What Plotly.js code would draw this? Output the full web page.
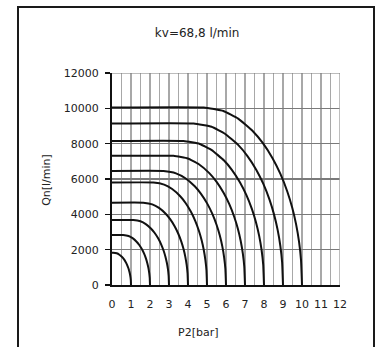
<!DOCTYPE html>
<html>
<head>
<meta charset="utf-8">
<script src="https://cdn.plot.ly/plotly-3.0.1.min.js"></script>
<style>
html,body{margin:0;padding:0;background:#fff;overflow:hidden;}
#chart{width:377px;height:347px;position:absolute;left:0;top:0;}
#frame{position:absolute;left:17px;top:6px;width:354px;height:360px;border:2px solid #1a1a1a;pointer-events:none;}
</style>
</head>
<body>
<div id="chart"></div>
<div id="frame"></div>
<script>
// P1 supply pressures (bar) for each curve
const supplyPressures = [1, 2, 3, 4, 5, 6, 7, 8, 9, 10];
// P2 [bar] / Qn [l/min] points
const p2_1  = [0, 0.06, 0.248, 0.389, 0.53, 0.624, 0.718, 0.793, 0.859, 0.906, 0.944, 0.972, 0.991, 1.0];
const qn_1  = [1830, 1830, 1793, 1714, 1585, 1464, 1307, 1145, 964, 798, 624, 445, 258, 0];
const p2_2  = [0, 0.59, 0.872, 1.084, 1.295, 1.436, 1.577, 1.690, 1.789, 1.859, 1.915, 1.958, 1.986, 2.0];
const qn_2  = [2830, 2830, 2773, 2651, 2451, 2264, 2021, 1771, 1491, 1234, 966, 688, 399, 0];
const p2_3  = [0, 1.12, 1.496, 1.778, 2.06, 2.248, 2.436, 2.586, 2.718, 2.812, 2.887, 2.944, 2.981, 3.0];
const qn_3  = [3680, 3680, 3606, 3447, 3187, 2944, 2628, 2303, 1939, 1604, 1256, 895, 519, 0];
const p2_4  = [0, 1.65, 2.12, 2.473, 2.825, 3.06, 3.295, 3.483, 3.648, 3.765, 3.859, 3.930, 3.977, 4.0];
const qn_4  = [4660, 4660, 4566, 4365, 4036, 3728, 3328, 2916, 2455, 2031, 1590, 1133, 658, 0];
const p2_5  = [0, 2.18, 2.744, 3.167, 3.59, 3.872, 4.154, 4.380, 4.577, 4.718, 4.831, 4.915, 4.972, 5.0];
const qn_5  = [5800, 5800, 5683, 5433, 5023, 4640, 4142, 3630, 3055, 2528, 1979, 1410, 818, 0];
const p2_6  = [0, 2.71, 3.368, 3.862, 4.355, 4.684, 5.013, 5.276, 5.507, 5.671, 5.803, 5.901, 5.967, 6.0];
const qn_6  = [6450, 6450, 6320, 6042, 5586, 5160, 4606, 4036, 3398, 2812, 2201, 1568, 910, 0];
const p2_7  = [0, 3.24, 3.992, 4.556, 5.12, 5.496, 5.872, 6.173, 6.436, 6.624, 6.774, 6.887, 6.962, 7.0];
const qn_7  = [7310, 7310, 7162, 6847, 6330, 5848, 5220, 4575, 3851, 3186, 2494, 1777, 1031, 0];
const p2_8  = [0, 3.77, 4.616, 5.251, 5.885, 6.308, 6.731, 7.069, 7.366, 7.577, 7.746, 7.873, 7.958, 8.0];
const qn_8  = [8150, 8150, 7985, 7634, 7058, 6520, 5820, 5100, 4293, 3553, 2781, 1981, 1150, 0];
const p2_9  = [0, 4.3, 5.24, 5.945, 6.65, 7.12, 7.59, 7.966, 8.295, 8.53, 8.718, 8.859, 8.953, 9.0];
const qn_9  = [9140, 9140, 8955, 8561, 7915, 7312, 6527, 5720, 4815, 3984, 3119, 2222, 1290, 0];
const p2_10 = [0, 4.83, 5.864, 6.640, 7.415, 7.932, 8.449, 8.863, 9.225, 9.483, 9.690, 9.845, 9.948, 10.0];
const qn_10 = [10050, 10050, 9847, 9414, 8703, 8040, 7177, 6289, 5294, 4381, 3429, 2443, 1418, 0];

const xTickVals = [0,1,2,3,4,5,6,7,8,9,10,11,12];
const xTickText = ['0','1','2','3','4','5','6','7','8','9','10','11','12'];
const yTickVals = [0,2000,4000,6000,8000,10000,12000];
const yTickText = ['0','2000','4000','6000','8000','10000','12000'];

const xs = [p2_1,p2_2,p2_3,p2_4,p2_5,p2_6,p2_7,p2_8,p2_9,p2_10];
const ys = [qn_1,qn_2,qn_3,qn_4,qn_5,qn_6,qn_7,qn_8,qn_9,qn_10];

const traces = supplyPressures.map((p, i) => ({
  x: xs[i], y: ys[i], type: 'scatter', mode: 'lines',
  name: 'P1=' + p + ' bar',
  line: {color: '#111111', width: 2, shape: 'spline', smoothing: 0.35},
  hoverinfo: 'skip'
}));

const F = 'DejaVu Sans, sans-serif';
const layout = {
  width: 377, height: 347,
  margin: {l: 112, r: 37, t: 73, b: 62, pad: 0},
  paper_bgcolor: '#ffffff', plot_bgcolor: '#ffffff',
  showlegend: false,
  font: {family: F, size: 11, color: '#222'},
  title: {text: 'kv=68,8 l/min', font: {family: F, size: 12, color: '#222'},
          x: 0.523, xref: 'container', xanchor: 'center',
          y: 0.905, yref: 'container', yanchor: 'middle'},
  xaxis: {
    range: [0, 12], tickvals: xTickVals, ticktext: xTickText,
    showgrid: true, gridcolor: '#a8a8a8', gridwidth: 1.5,
    minor: {dtick: 0.5, tick0: 0, showgrid: true, gridcolor: '#a8a8a8', gridwidth: 1.5},
    zeroline: false, showline: true, linecolor: '#111', linewidth: 2,
    ticks: '', ticklabelstandoff: 8, tickfont: {family: F, size: 11, color: '#222'},
    fixedrange: true
  },
  yaxis: {
    range: [0, 12000], tickvals: yTickVals, ticktext: yTickText,
    showgrid: true, gridcolor: '#7a7a7a', gridwidth: 1.2,
    zeroline: false, showline: true, linecolor: '#111', linewidth: 2,
    ticks: 'outside', ticklen: 5, tickwidth: 1.5, tickcolor: '#111',
    ticklabelstandoff: 4, tickfont: {family: F, size: 11, color: '#222'},
    fixedrange: true
  },
  shapes: [
    {type: 'line', xref: 'x', yref: 'y', x0: 12, x1: 12, y0: 0, y1: 12000,
     line: {color: '#a8a8a8', width: 1.5}},
    {type: 'line', xref: 'x', yref: 'y', x0: 0, x1: 12, y0: 12000, y1: 12000,
     line: {color: '#7a7a7a', width: 1.2}}
  ],
  annotations: [
    {text: 'P2[bar]', xref: 'paper', yref: 'paper', x: 0.377, y: -0.223,
     xanchor: 'center', yanchor: 'middle', showarrow: false,
     font: {family: F, size: 11, color: '#222'}},
    {text: 'Qn[l/min]', xref: 'paper', yref: 'paper', x: -0.285, y: 0.496,
     xanchor: 'center', yanchor: 'middle', showarrow: false, textangle: -90,
     font: {family: F, size: 11, color: '#222'}}
  ]
};

Plotly.newPlot('chart', traces, layout, {staticPlot: true, displayModeBar: false});
</script>
</body>
</html>
